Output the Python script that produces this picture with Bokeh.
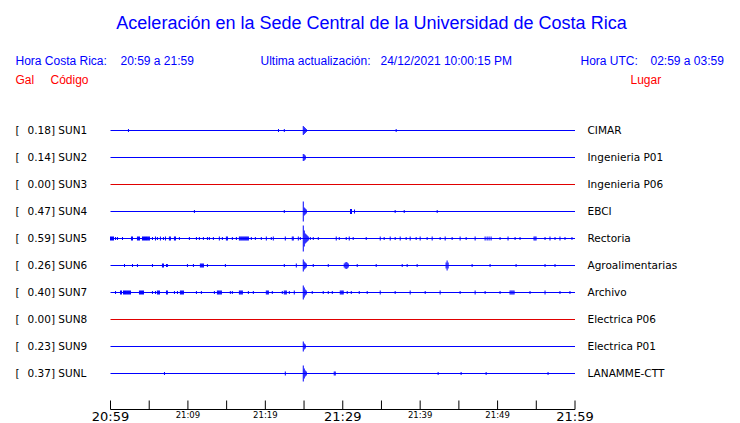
from bokeh.plotting import figure
from bokeh.models import Range1d
from bokeh.embed import file_html
from bokeh.resources import INLINE
from bokeh.core.properties import value

# ---------------- data ----------------
TITLE = "Aceleración en la Sede Central de la Universidad de Costa Rica"
HORA_CR_LABEL = "Hora Costa Rica:"
HORA_CR = "20:59 a 21:59"
ACT_LABEL = "Ultima actualización:"
ACTUALIZACION = "24/12/2021 10:00:15 PM"
UTC_LABEL = "Hora UTC:"
HORA_UTC = "02:59 a 03:59"

codes = ["SUN1", "SUN2", "SUN3", "SUN4", "SUN5", "SUN6", "SUN7", "SUN8", "SUN9", "SUNL"]
peaks = [0.18, 0.14, 0.00, 0.47, 0.59, 0.26, 0.40, 0.00, 0.23, 0.37]
places = ["CIMAR", "Ingenieria P01", "Ingenieria P06", "EBCI", "Rectoria",
          "Agroalimentarias", "Archivo", "Electrica P06", "Electrica P01", "LANAMME-CTT"]

tick_minutes = [0, 5, 10, 15, 20, 25, 30, 35, 40, 45, 50, 55, 60]
label_minutes = [0, 10, 20, 30, 40, 50, 60]
tick_labels = ["20:59", "21:09", "21:19", "21:29", "21:39", "21:49", "21:59"]
label_major = [True, False, False, True, False, False, True]

# spikes: (minutes after 20:59, half amplitude)
SUN1 = [(2.32, 1.5), (21.7, 1.5), (22.45, 1.5), (24.9, 4.5), (25.03, 3.5), (25.16, 2.5),
        (25.29, 1.5), (36.9, 1.5)]
SUN2 = [(24.9, 3.5), (25.03, 3.0), (25.16, 2.0)]
SUN3 = []
SUN4 = [(10.84, 1.5), (22.45, 1.5), (24.9, 10.0), (25.03, 4.0), (25.16, 3.0), (25.29, 2.0),
        (31.0, 2.5), (31.13, 2.5), (31.52, 2.0), (36.77, 1.5), (37.94, 1.5), (42.2, 1.5)]
SUN5 = [(0.0, 2), (0.13, 2), (0.26, 2), (0.39, 2), (0.65, 1.5), (0.9, 1.5), (1.55, 1.5),
        (2.71, 2), (2.84, 2), (3.48, 2), (3.61, 2), (3.74, 2), (4.13, 2), (4.26, 2), (4.39, 2),
        (4.52, 2), (4.65, 2), (4.77, 2), (4.9, 2), (5.03, 2), (5.42, 1.5), (5.81, 2), (6.06, 1.5),
        (6.45, 2), (6.84, 1.5), (7.1, 2), (7.61, 2), (7.74, 2), (8.26, 2), (8.39, 2), (8.9, 1.5),
        (10.19, 1.5), (11.1, 1.5), (11.48, 1.5), (12.0, 1.5), (12.52, 1.5), (12.77, 1.5),
        (13.29, 1.5), (14.06, 2), (14.45, 1.5), (14.97, 2), (15.1, 2), (15.74, 1.5), (16.26, 1.5),
        (16.65, 2), (16.77, 2), (16.9, 2), (17.03, 2), (17.16, 2), (17.29, 2), (17.42, 2),
        (17.55, 2), (17.68, 2), (17.81, 2), (18.19, 1.5), (18.71, 1.5), (19.48, 1.5), (20.13, 2),
        (20.77, 1.5), (21.03, 2), (22.58, 2), (23.48, 2), (23.61, 2), (24.26, 2), (24.52, 1.5),
        (24.9, 13), (25.03, 8), (25.16, 5), (25.29, 4), (25.42, 3), (25.55, 2), (25.81, 1.5),
        (26.19, 1.5), (26.84, 1.5), (29.16, 2), (29.55, 1.5), (30.45, 1.5), (30.84, 2), (31.35, 1.5),
        (33.03, 1.5), (34.84, 2), (35.35, 1.5), (36.13, 2), (36.77, 1.5), (37.42, 2), (38.19, 1.5),
        (38.71, 2), (39.48, 1.5), (40.0, 2), (40.9, 1.5), (41.55, 2), (42.58, 1.5), (43.23, 2),
        (44.13, 1.5), (45.16, 2), (45.94, 1.5), (47.1, 2), (48.39, 2), (48.65, 2), (48.9, 2),
        (49.16, 2), (50.32, 1.5), (51.35, 2), (52.26, 1.5), (52.9, 1.5), (54.71, 2), (54.84, 2),
        (54.97, 2), (56.13, 1.5), (56.77, 2), (57.42, 1.5), (58.06, 2), (58.71, 1.5), (59.61, 1.5)]
SUN6 = [(1.81, 1.5), (2.84, 1.5), (3.48, 1.5), (5.42, 1.5), (6.71, 2), (6.84, 2), (7.23, 1.5),
        (7.35, 1.5), (9.94, 1.5), (10.71, 1.5), (11.61, 2), (11.74, 2), (11.87, 2), (12.0, 2),
        (12.52, 1.5), (14.84, 1.5), (22.45, 1.5), (24.0, 2), (24.9, 6), (25.03, 4), (25.16, 3),
        (25.29, 2), (26.19, 1.5), (28.13, 1.5), (30.19, 2), (30.32, 3), (30.45, 3.5), (30.58, 3),
        (30.71, 2), (31.87, 1.5), (34.32, 1.5), (37.68, 1.5), (38.32, 1.5), (39.61, 1.5),
        (43.35, 3), (43.48, 5), (43.61, 3), (46.71, 1.5), (49.03, 1.5), (52.39, 1.5),
        (56.13, 1.5), (57.42, 1.5)]
SUN7 = [(0.65, 1.5), (1.29, 2), (1.42, 2), (1.68, 2), (1.81, 2), (1.94, 2), (2.06, 2), (2.19, 2),
        (2.32, 2), (2.45, 2), (2.58, 2), (3.74, 2), (3.87, 2), (4.0, 2), (4.13, 2), (4.26, 2),
        (5.42, 1.5), (5.81, 1.5), (6.06, 2), (6.19, 2), (6.32, 2), (7.23, 2), (7.35, 2), (8.26, 1.5),
        (8.65, 1.5), (9.03, 2), (9.16, 2), (9.29, 2), (9.42, 2), (11.1, 1.5), (11.74, 1.5),
        (13.42, 1.5), (13.81, 2), (13.94, 2), (14.06, 2), (14.19, 2), (14.32, 2), (15.48, 1.5),
        (15.74, 1.5), (16.65, 2), (16.77, 2), (16.9, 2), (17.03, 2), (17.81, 1.5), (18.45, 1.5),
        (20.13, 2), (20.26, 2), (20.39, 2), (20.9, 1.5), (22.19, 1.5), (22.45, 2), (22.58, 2),
        (22.71, 2), (23.1, 1.5), (23.74, 2), (24.9, 7), (25.03, 5), (25.16, 3), (25.29, 2),
        (26.06, 1.5), (27.48, 1.5), (28.13, 1.5), (28.65, 1.5), (29.68, 2), (29.81, 2), (29.94, 2),
        (30.06, 2), (30.58, 1.5), (31.1, 1.5), (32.13, 1.5), (33.16, 1.5), (34.84, 2), (36.77, 1.5),
        (38.71, 2), (40.65, 1.5), (42.58, 2), (45.16, 1.5), (47.1, 2), (48.39, 1.5), (50.32, 1.5),
        (51.61, 2), (51.74, 2), (51.87, 2), (52.0, 2), (52.13, 2), (54.19, 1.5), (56.13, 2),
        (58.06, 1.5), (59.35, 1.5)]
SUN8 = []
SUN9 = [(24.9, 5), (25.03, 3), (25.16, 2)]
SUNL = [(6.97, 1.5), (22.58, 2), (24.9, 8), (25.03, 5), (25.16, 3), (25.29, 2), (28.9, 2),
        (29.03, 2), (42.32, 1.5), (45.29, 1.5), (48.52, 1.5), (56.52, 1.5)]
spikes = [SUN1, SUN2, SUN3, SUN4, SUN5, SUN6, SUN7, SUN8, SUN9, SUNL]

# ---------------- layout ----------------
W, H = 740, 423
X0, X1 = 110.0, 574.5       # pixel x of 20:59 and 21:59
ROW0, ROW_H = 130.0, 27.0   # pixel y of first trace, trace spacing
SPAN = 60.0
PXM = (X1 - X0) / SPAN
BASE_FIX = 0.42             # empirical baseline correction (fraction of font size)

BLUE = "#0000FF"
RED = "#FF0000"
TRACE_RED = "#E00000"


def yrow(py):
    return (py - ROW0) / ROW_H


def ytext(py_baseline, size):
    return yrow(py_baseline - BASE_FIX * size)


def xmin(px):
    return (px - X0) / PXM


p = figure(width=W, height=H, output_backend="svg", toolbar_location=None,
           x_range=Range1d(xmin(0), xmin(W)), y_range=Range1d(yrow(H), yrow(0)),
           x_axis_type=None, y_axis_type=None, tools="")
p.min_border = 0
p.min_border_left = 0
p.min_border_right = 0
p.min_border_top = 0
p.min_border_bottom = 0
p.outline_line_color = None
p.xgrid.visible = False
p.ygrid.visible = False
p.background_fill_color = "white"
p.border_fill_color = "white"


def txt(x, py, s, size, color, font="Liberation Sans", align="left"):
    p.text(x=[x], y=[ytext(py, size)], text=[s], text_font=value(font),
           text_font_size=f"{size}px", text_color=color, text_align=align,
           text_baseline="alphabetic")


# header
txt(xmin(371), 30, TITLE, 18, BLUE, align="center")
txt(xmin(15), 66, HORA_CR_LABEL, 12, BLUE)
txt(xmin(120), 66, HORA_CR, 12, BLUE)
txt(xmin(260), 66, ACT_LABEL, 12, BLUE)
txt(xmin(380), 66, ACTUALIZACION, 12, BLUE)
txt(xmin(580), 66, UTC_LABEL, 12, BLUE)
txt(xmin(650), 66, HORA_UTC, 12, BLUE)
txt(xmin(15), 84.5, "Gal", 12, RED)
txt(xmin(50), 84.5, "Código", 12, RED)
txt(xmin(630), 84.5, "Lugar", 12, RED)

# traces
rows = list(range(len(codes)))
colors = [BLUE if pk > 0 else TRACE_RED for pk in peaks]
p.segment(x0=[0] * len(rows), x1=[SPAN] * len(rows), y0=rows, y1=rows,
          line_color=colors, line_width=1)

sx, sy0, sy1, sc = [], [], [], []
for i, lst in enumerate(spikes):
    for t, a in lst:
        sx.append(t)
        sy0.append(i - a / ROW_H)
        sy1.append(i + a / ROW_H)
        sc.append(colors[i])
p.segment(x0=sx, x1=sx, y0=sy0, y1=sy1, line_color=sc, line_width=1)

# station labels
LAB_SIZE = 10.5
lab_y = [r + (4.0 - BASE_FIX * LAB_SIZE) / ROW_H for r in rows]
n = len(rows)
p.text(x=[xmin(15)] * n, y=lab_y, text=["["] * n, text_font=value("DejaVu Sans"),
       text_font_size=f"{LAB_SIZE}px", text_color="black", text_baseline="alphabetic")
p.text(x=[xmin(27)] * n, y=lab_y, text=[f"{pk:.2f}] {c}" for pk, c in zip(peaks, codes)],
       text_font=value("DejaVu Sans"), text_font_size=f"{LAB_SIZE}px", text_color="black",
       text_baseline="alphabetic")
p.text(x=[xmin(587)] * n, y=lab_y, text=places, text_font=value("DejaVu Sans"),
       text_font_size=f"{LAB_SIZE}px", text_color="black", text_baseline="alphabetic")

# time axis
AX_Y = 409
p.segment(x0=[0], x1=[SPAN], y0=[yrow(AX_Y)], y1=[yrow(AX_Y)], line_color="black", line_width=1)
p.segment(x0=tick_minutes, x1=tick_minutes, y0=[yrow(AX_Y - 9)] * len(tick_minutes),
          y1=[yrow(AX_Y)] * len(tick_minutes), line_color="black", line_width=1)
for m, lab, big in zip(label_minutes, tick_labels, label_major):
    if big:
        txt(m, 421, lab, 13, "black", font="DejaVu Sans", align="center")
    else:
        txt(m, 418, lab, 8.5, "black", font="DejaVu Sans", align="center")

open("out.html", "w").write(file_html(p, INLINE))
